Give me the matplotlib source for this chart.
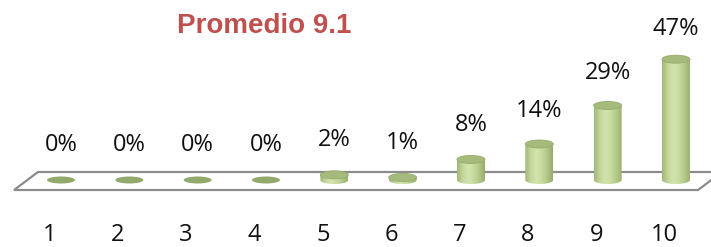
import numpy as np
import matplotlib
matplotlib.use("Agg")
import matplotlib.pyplot as plt
from matplotlib.path import Path
from matplotlib.patches import PathPatch, Ellipse, Polygon
from matplotlib.colors import LinearSegmentedColormap

# ---- data ----
categories = ["1", "2", "3", "4", "5", "6", "7", "8", "9", "10"]
values = [0, 0, 0, 0, 2, 1, 8, 14, 29, 47]
value_labels = ["0%", "0%", "0%", "0%", "2%", "1%", "8%", "14%", "29%", "47%"]
title_text = "Promedio 9.1"

# ---- figure ----
W, H, DPI = 711, 247, 100
fig = plt.figure(figsize=(W / DPI, H / DPI), dpi=DPI)
ax = fig.add_axes([0, 0, 1, 1])
ax.set_axis_off()

px_per_cat = 68.33
x0_pix = 61.0
px_per_val = 2.57
base_pix = 180.0
ax.set_xlim(1 - x0_pix / px_per_cat, 1 + (W - x0_pix) / px_per_cat)
ax.set_ylim((base_pix - H) / px_per_val, base_pix / px_per_val)

# floor (parallelogram)
back = (base_pix - 172) / px_per_val
front = (base_pix - 190) / px_per_val
fl = 1 - (x0_pix - 14) / px_per_cat
bl = 1 - (x0_pix - 38) / px_per_cat
fr = 1 + (698 - x0_pix) / px_per_cat
br = 1 + (722 - x0_pix) / px_per_cat
ax.add_patch(Polygon([(fl, front), (bl, back), (br, back), (fr, front)],
                     closed=True, facecolor="white", edgecolor="#8c8c8c",
                     linewidth=1.6, zorder=1))

bw = 28 / px_per_cat
eh = 8 / px_per_val

cmap = LinearSegmentedColormap.from_list(
    "cyl", ["#a3b878", "#c4d69a", "#d3e3ae", "#c8da9f", "#b2c787", "#98ad6c"])
grad = np.linspace(0, 1, 64).reshape(1, -1)

for i, v in enumerate(values):
    xc = i + 1
    if v > 0:
        # body path: rect + bottom half ellipse
        n = 40
        t = np.linspace(np.pi, 2 * np.pi, n)
        arc = np.column_stack([xc + bw / 2 * np.cos(t), eh / 2 * np.sin(t)])
        verts = [(xc - bw / 2, v)] + [tuple(p) for p in arc] + [(xc + bw / 2, v), (xc - bw / 2, v)]
        codes = [Path.MOVETO] + [Path.LINETO] * (len(verts) - 2) + [Path.CLOSEPOLY]
        clip = PathPatch(Path(verts, codes), facecolor="none", edgecolor="none")
        ax.add_patch(clip)
        im = ax.imshow(grad, cmap=cmap, aspect="auto", interpolation="bilinear",
                       extent=(xc - bw / 2, xc + bw / 2, -eh, v), zorder=2)
        im.set_clip_path(clip)
        ax.add_patch(Ellipse((xc, v), bw, eh, facecolor="#a5ba7b",
                             edgecolor="#96ac6d", linewidth=0.6, zorder=3))
    else:
        ax.add_patch(Ellipse((xc, v), bw, 7 / px_per_val, facecolor="#93a96b",
                             edgecolor="none", zorder=3))

# value labels
for i, (v, lab) in enumerate(zip(values, value_labels)):
    ax.text(i + 1, 0.96 * v + 13.6, lab, ha="center", va="center",
            fontsize=17, family="Open Sans", color="#111111", zorder=5)

# category labels
tick_v = (base_pix - 235) / px_per_val
for i, c in enumerate(categories):
    ax.text(i + 1 - 11.5 / px_per_cat, tick_v, c, ha="center", va="center",
            fontsize=17, family="Open Sans", color="#111111", zorder=5)

# title
fig.text(264.5 / W, 1 - 33.3 / H, title_text, ha="center", va="baseline",
         fontsize=20, fontweight="bold", family="Liberation Sans", color="#c0504d")

fig.savefig("out.png", dpi=DPI)
